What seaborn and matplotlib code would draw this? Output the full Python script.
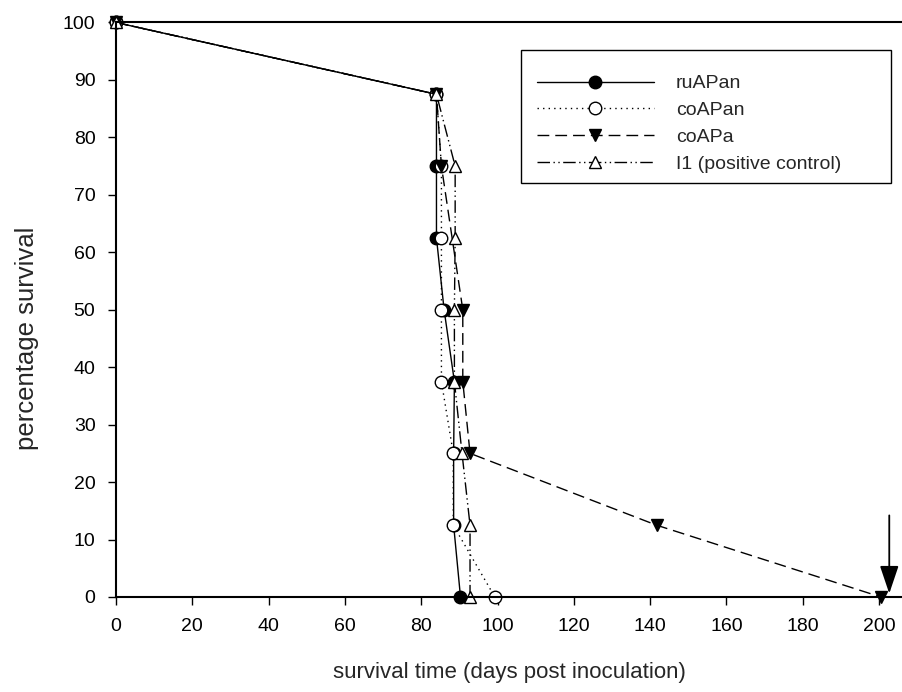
import matplotlib
matplotlib.use("Agg")
import matplotlib.pyplot as plt
from matplotlib.patches import Rectangle
import seaborn as sns

# survival data (days, % survival)
ruapan_days = [0, 84, 84, 84, 86, 88.7, 88.5, 88.5, 90.3]
ruapan_surv = [100, 87.5, 75, 62.5, 50, 37.5, 25, 12.5, 0]

coapan_days = [0, 84, 85.3, 85.3, 85.3, 85.3, 88.4, 88.4, 99.3]
coapan_surv = [100, 87.5, 75, 62.5, 50, 37.5, 25, 12.5, 0]

coapa_days = [0, 84, 85.3, 90.9, 90.9, 92.8, 141.7, 200.5]
coapa_surv = [100, 87.5, 75, 50, 37.5, 25, 12.5, 0]

i1_days = [0, 84, 88.9, 88.9, 88.7, 88.7, 90.7, 92.8, 92.8]
i1_surv = [100, 87.5, 75, 62.5, 50, 37.5, 25, 12.5, 0]

series_names = ["ruAPan", "coAPan", "coAPa", "I1 (positive control)"]
x_ticks = list(range(0, 201, 20))
y_ticks = list(range(0, 101, 10))

sns.set_style("ticks")
plt.rcParams['font.family'] = ['Liberation Sans', 'DejaVu Sans']

fig = plt.figure(figsize=(9.03, 6.92), dpi=100)
ax = fig.add_axes([0.1285, 0.1373, 0.8715, 0.8302])

common = dict(color="black", lw=1.0, markersize=9, markeredgecolor="black",
              markeredgewidth=1.0, estimator=None, sort=False, clip_on=False, ax=ax)

sns.lineplot(x=ruapan_days, y=ruapan_surv, marker="o", markerfacecolor="black",
             linestyle="-", label=series_names[0], **common)
sns.lineplot(x=coapan_days, y=coapan_surv, marker="o", markerfacecolor="white",
             linestyle=(0, (1, 3)), label=series_names[1], **common)
sns.lineplot(x=coapa_days, y=coapa_surv, marker="v", markerfacecolor="black",
             linestyle=(0, (8.5, 4.3)), label=series_names[2], **common)
sns.lineplot(x=i1_days, y=i1_surv, marker="^", markerfacecolor="white",
             linestyle=(0, (9, 2.5, 1, 2.5, 1, 2.5)), label=series_names[3], **common)

# arrow marking the end of the coAPa group
ax.annotate("", xy=(202.7, 0.6), xytext=(202.7, 14.2),
            arrowprops=dict(arrowstyle="-|>,head_length=0.86,head_width=0.29",
                            mutation_scale=20, color="black", lw=1.3,
                            shrinkA=0, shrinkB=0),
            annotation_clip=False)

ax.set_xlim(0, 206.3)
ax.set_ylim(0, 100)
ax.set_xticks(x_ticks)
ax.set_yticks(y_ticks)
ax.tick_params(axis="both", direction="out", length=5.8, width=1.0, pad=9,
               labelsize=14, colors="black")
ax.tick_params(top=False, right=False)

for side in ["left", "bottom", "top"]:
    ax.spines[side].set_linewidth(1.5)
    ax.spines[side].set_color("black")
ax.spines["right"].set_visible(False)

ax.set_xlabel("survival time (days post inoculation)", fontsize=16, labelpad=20)
ax.set_ylabel("percentage survival", fontsize=18.5)
ax.yaxis.set_label_coords(-0.098, 0.45)

# legend entries without frame, box drawn separately (SigmaPlot style padding)
leg = ax.legend(loc="upper left", bbox_to_anchor=(0.535, 0.909),
                fontsize=14, frameon=False, borderaxespad=0, borderpad=0,
                handlelength=6.0, handletextpad=1.15, labelspacing=0.47,
                numpoints=1)
ax.add_patch(Rectangle((0.5146, 0.721), 0.4704, 0.231, transform=ax.transAxes,
                       fill=False, edgecolor="black", lw=1.0, zorder=4))

fig.savefig("out.png", dpi=100)
plt.close(fig)
